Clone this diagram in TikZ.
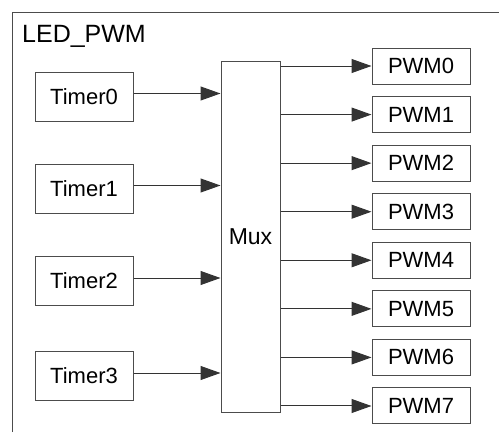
\documentclass[tikz,border=0pt]{standalone}
\usepackage{fontspec}
\setmainfont{Liberation Sans}
\usetikzlibrary{arrows.meta,calc}
\begin{document}
\begin{tikzpicture}[x=1pt,y=-1pt,
  box/.style={draw=black!70,line width=1pt,inner sep=0pt,fill=white,font=\fontsize{22}{24}\selectfont},
  tbox/.style={box,minimum width=98pt,minimum height=49pt},
  pbox/.style={box,minimum width=98pt,minimum height=36pt},
  arr/.style={draw=black!80,line width=1pt,-{Triangle[length=20pt,width=14pt]}}]
\useasboundingbox (0,0) rectangle (499,432);
\draw[draw=black!70,line width=1pt] (12,432) -- (12,12) -- (499,12);
\node[anchor=base west,inner sep=0pt,font=\fontsize{25}{28}\selectfont] (title) at (22,42) {LED\_PWM};
\node[box,minimum width=59pt,minimum height=351pt,font=\fontsize{23}{25}\selectfont] (mux) at (250.5,236.5) {Mux};
\foreach \i/\y in {0/96.5,1/188.5,2/281,3/376}{
  \node[tbox] (t\i) at (84,\y) {Timer\i};
  \draw[arr] ([yshift=3pt]t\i.east) -- ([yshift=3pt]t\i.east -| mux.west);
}
\foreach \i in {0,...,7}{
  \node[pbox] (p\i) at (421,{66+48.57*\i}) {PWM\i};
  \draw[arr] (p\i.west -| mux.east) -- (p\i.west);
}
\end{tikzpicture}
\end{document}
